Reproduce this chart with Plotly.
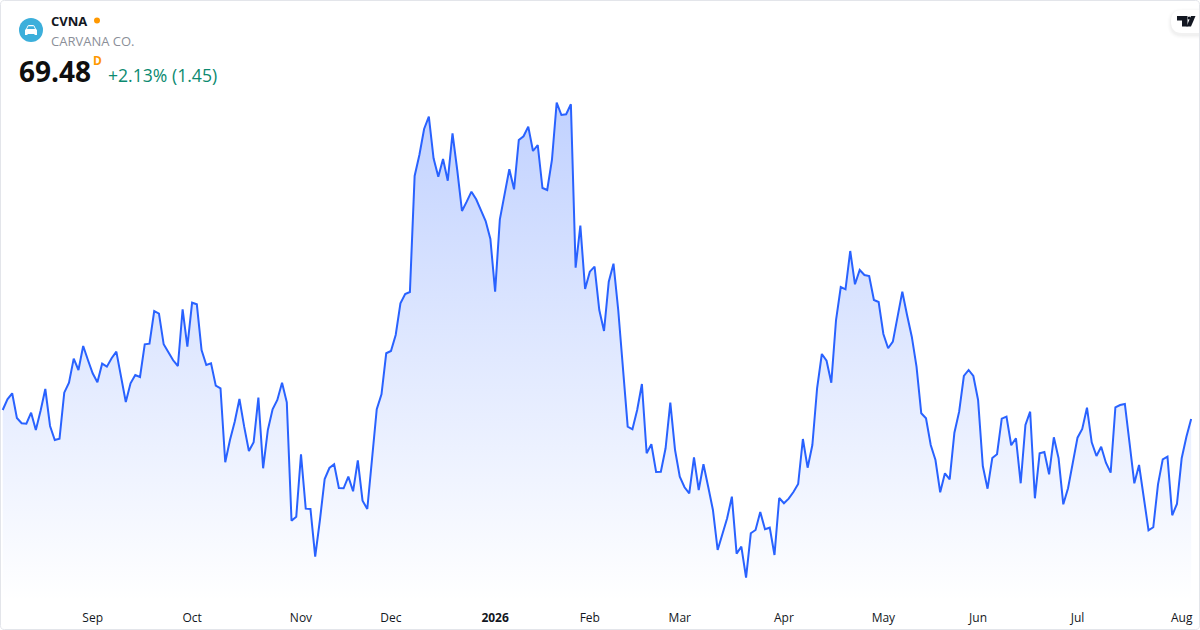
import pandas as pd
import plotly.graph_objects as go

# Close prices, one per trading day
values = [
 71.75,74.43,75.93,69.75,68.43,68.33,71.08,66.75,71.58,77.0,67.75,64.25,64.58,76.08,78.58,84.58,81.75,87.75,84.25,80.93,
 78.68,83.33,82.58,84.68,86.33,80.5,73.75,78.43,80.5,80.0,88.18,88.33,96.5,95.83,88.18,86.18,84.18,82.75,96.93,87.58,
 98.58,98.18,86.75,83.0,83.43,77.83,77.18,58.68,64.25,68.83,74.5,67.58,61.5,63.68,74.83,57.18,66.75,71.93,74.25,78.58,
 73.68,44.08,45.08,60.68,47.08,47.0,35.08,44.25,54.5,57.25,58.18,52.25,52.18,55.08,51.43,59.18,49.08,47.0,60.08,71.93,
 75.68,85.93,86.5,90.5,98.43,100.75,101.25,130.25,135.5,142.0,145.08,134.68,130.08,134.5,129.08,140.93,131.75,121.5,123.83,126.33,
 124.43,121.58,119.0,114.5,101.33,119.43,125.93,131.93,126.93,139.25,140.18,142.58,136.5,138.0,127.25,126.75,134.25,148.58,145.5,145.68,
 148.18,107.33,117.83,102.0,106.33,107.58,96.75,91.5,103.83,108.33,96.75,81.25,67.58,66.93,71.75,78.25,60.93,63.18,56.25,56.33,
 62.18,73.58,61.75,55.08,52.43,50.93,59.93,51.75,58.18,52.58,46.75,36.75,40.93,44.68,50.08,35.83,37.58,29.83,40.93,41.75,
 46.25,41.93,42.33,35.5,49.75,48.43,49.6,51.25,53.25,64.5,57.33,63.0,77.18,85.75,84.08,78.58,94.25,102.5,101.93,111.5,
 103.18,106.75,105.5,105.25,99.25,98.75,90.75,87.18,88.83,95.08,101.33,95.5,90.08,82.58,70.93,69.68,63.0,59.25,51.18,55.93,
 54.43,66.08,71.33,80.25,81.75,80.25,74.25,57.75,52.08,59.75,60.7,69.58,70.08,62.93,64.68,53.43,68.0,71.33,49.68,60.93,
 61.25,55.68,64.93,59.68,48.18,52.18,58.43,64.83,67.0,72.33,63.68,60.25,62.58,58.58,56.08,72.43,73.0,73.25,63.43,53.43,
 58.0,49.68,41.68,42.43,53.18,59.43,60.08,45.43,48.25,59.68,65.08,69.48,
]
market_holidays = ["2025-09-01","2025-11-27","2025-12-25","2026-01-01","2026-01-19","2026-02-16",
                   "2026-04-03","2026-05-25","2026-06-19","2026-07-03"]
tick_dates = ["2025-09-02","2025-10-01","2025-11-03","2025-12-01","2026-01-02","2026-02-02",
              "2026-03-02","2026-04-01","2026-05-01","2026-06-01","2026-07-01","2026-08-03"]
tick_labels = ["Sep","Oct","Nov","Dec","<b>2026</b>","Feb","Mar","Apr","May","Jun","Jul","Aug"]

ticker = "CVNA"
company = "CARVANA CO."
last_price = "69.48"
change_text = "+2.13% (1.45)"

W, H = 1200, 630
days = pd.bdate_range("2025-08-05", "2026-08-05")
days = [d.strftime("%Y-%m-%d") for d in days if d.strftime("%Y-%m-%d") not in market_holidays]

def fx(p): return p / W
def fy(p): return 1 - p / H
def path(*parts):
    out = []
    for part in parts:
        if isinstance(part, str):
            out.append(part)
        else:
            out.append(f"{fx(part[0]):.5f},{fy(part[1]):.5f}")
    return " ".join(out)
def txt(x, y, text, size, color, anchor="left", **font):
    return dict(x=fx(x), y=fy(y), xref="paper", yref="paper", text=text, showarrow=False,
                xanchor=anchor, yanchor="middle", align="left",
                font=dict(family="Open Sans", size=size, color=color, **font))

shapes = []
# card border with rounded corners
r = 4
shapes.append(dict(type="path", xref="paper", yref="paper", line=dict(color="#e3e5ea", width=1), fillcolor="rgba(0,0,0,0)",
    path=path("M",(0.5+r,0.5),"L",(1199.5-r,0.5),"Q",(1199.5,0.5),(1199.5,0.5+r),"L",(1199.5,629.5-r),"Q",(1199.5,629.5),(1199.5-r,629.5),
              "L",(0.5+r,629.5),"Q",(0.5,629.5),(0.5,629.5-r),"L",(0.5,0.5+r),"Q",(0.5,0.5),(0.5+r,0.5),"Z")))
# symbol disc
shapes.append(dict(type="circle", xref="paper", yref="paper", x0=fx(19), x1=fx(43), y0=fy(42), y1=fy(18),
                   fillcolor="#3cafdb", line=dict(width=0)))
# car glyph
shapes.append(dict(type="path", xref="paper", yref="paper", fillcolor="#ffffff", line=dict(width=0),
    path=path("M",(26,29),"L",(27.5,26),"Q",(28,25),(29.5,25),"L",(32.5,25),"Q",(34,25),(34.5,26),"L",(36,29),"L",(37,30),
              "L",(37,35),"L",(34.5,35),"L",(34.5,34),"L",(27.5,34),"L",(27.5,35),"L",(25,35),"L",(25,30),"Z")))
shapes.append(dict(type="path", xref="paper", yref="paper", fillcolor="#3cafdb", line=dict(width=0),
    path=path("M",(27,29),"L",(28.3,26.2),"L",(33.7,26.2),"L",(35,29),"Z")))
# market-status dot
shapes.append(dict(type="circle", xref="paper", yref="paper", x0=fx(94), x1=fx(100), y0=fy(23.5), y1=fy(17.5),
                   fillcolor="#ff9800", line=dict(width=0)))
# TradingView badge: soft shadow, white pill, glyph
for grow, alpha in [(4, 0.008), (3, 0.012), (2, 0.016), (1, 0.02)]:
    shapes.append(dict(type="path", xref="paper", yref="paper", fillcolor=f"rgba(0,0,0,{alpha})", line=dict(width=0),
        path=path("M",(1199,12-grow),"L",(1182,12-grow),"Q",(1171-grow,12-grow),(1171-grow,23),"Q",(1171-grow,35+grow),(1182,35+grow),"L",(1199,35+grow),"Z")))
shapes.append(dict(type="path", xref="paper", yref="paper", fillcolor="#ffffff", line=dict(width=0),
    path=path("M",(1199,10),"L",(1182,10),"Q",(1171,10),(1171,21.5),"Q",(1171,33),(1182,33),"L",(1199,33),"Z")))
shapes.append(dict(type="path", xref="paper", yref="paper", fillcolor="#131722", line=dict(width=0),
    path=path("M",(1177,16),"L",(1187.5,16),"L",(1187.5,26.5),"L",(1182,26.5),"L",(1182,20.5),"L",(1177,20.5),"Z")))
shapes.append(dict(type="path", xref="paper", yref="paper", fillcolor="#131722", line=dict(width=0),
    path=path("M",(1191,16),"L",(1195.5,16),"L",(1191,26.5),"L",(1186.5,26.5),"Z")))
shapes.append(dict(type="circle", xref="paper", yref="paper", x0=fx(1187.6), x1=fx(1190.6), y0=fy(19.5), y1=fy(16.5),
                   fillcolor="#131722", line=dict(width=0)))

annotations = [
    txt(49, 21, f"<b>{ticker}</b>", 13, "#131722"),
    txt(49, 41, company, 13, "#8b8f99"),
    txt(16.5, 71, f"<b>{last_price}</b>", 28, "#0f0f0f"),
    txt(91, 61, "<b>D</b>", 12, "#ff9800"),
    txt(105.5, 75, change_text, 17.6, "#0b8a70"),
]

fig = go.Figure(go.Scatter(
    x=days, y=values, mode="lines",
    line=dict(color="#2962ff", width=2, shape="linear"),
    fill="tozeroy",
    fillgradient=dict(type="vertical", start=149.0, stop=24.0,
                      colorscale=[[0, "rgba(41,98,255,0.29)"], [1, "rgba(41,98,255,0)"]]),
    hoverinfo="skip", showlegend=False,
))
fig.update_layout(
    width=W, height=H, margin=dict(l=0, r=0, t=0, b=0),
    paper_bgcolor="#ffffff", plot_bgcolor="#ffffff",
    shapes=shapes, annotations=annotations, showlegend=False,
    xaxis=dict(type="category", categoryorder="trace", range=[-0.57, 252.87], showgrid=False, zeroline=False,
               showline=False, tickmode="array", tickvals=tick_dates, ticktext=tick_labels, ticks="",
               anchor="free", position=2.2/630,
               ticklabelposition="inside", tickfont=dict(family="Open Sans", size=12, color="#131722")),
    yaxis=dict(range=[16.75, 174.25], visible=False, fixedrange=True),
)
fig.write_html("out.html", config=dict(displayModeBar=False),
               post_script="document.body.style.margin='0';")
